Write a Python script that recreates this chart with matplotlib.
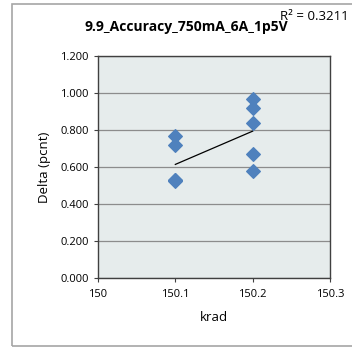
import numpy as np
import matplotlib.pyplot as plt
from matplotlib.patches import Rectangle

# data (two points overlap near 0.53 at 150.1)
krad = [150.1, 150.1, 150.1, 150.1, 150.1, 150.2, 150.2, 150.2, 150.2, 150.2]
delta = [0.769, 0.718, 0.532, 0.528, 0.523, 0.968, 0.918, 0.836, 0.671, 0.576]
r2_text = "R² = 0.3211"
title = "9.9_Accuracy_750mA_6A_1p5V"
x_ticks = [150, 150.1, 150.2, 150.3]
x_tick_labels = ["150", "150.1", "150.2", "150.3"]
y_ticks = [0.0, 0.2, 0.4, 0.6, 0.8, 1.0, 1.2]

plt.rcParams['font.family'] = ['Open Sans', 'DejaVu Sans']

fig = plt.figure(figsize=(3.52, 3.48), dpi=100)
fig.patch.set_facecolor('white')

# outer chart border
fig.patches.append(Rectangle((12 / 352, 2 / 348), 345 / 352, 342 / 348,
                             transform=fig.transFigure, fill=False,
                             edgecolor='#a6a6a6', linewidth=1.2))

ax = fig.add_axes([98 / 352, 70 / 348, 232 / 352, 222 / 348])
ax.set_facecolor('#e6ecec')

ax.scatter(krad, delta, marker='D', s=48, color='#4f81bd', zorder=3)

# linear trendline
k, d = np.polyfit(krad, delta, 1)
xs = np.array([min(krad), max(krad)])
ax.plot(xs, k * xs + d, color='black', linewidth=0.9, zorder=2)

ax.set_xlim(150, 150.3)
ax.set_ylim(0, 1.2)
ax.set_xticks(x_ticks)
ax.set_xticklabels(x_tick_labels)
ax.set_yticks(y_ticks)
ax.set_yticklabels(["%.3f" % v for v in y_ticks])
ax.grid(axis='y', color='#8c8c8c', linewidth=0.9)
ax.set_axisbelow(True)

for s in ax.spines.values():
    s.set_color('#404040')
    s.set_linewidth(1.0)
ax.tick_params(axis='both', labelsize=8, color='#404040', length=3, width=0.8)
ax.tick_params(axis='x', pad=5)

ax.set_xlabel("krad", fontsize=9.5, labelpad=8)
ax.set_ylabel("Delta (pcnt)", fontsize=9.5, labelpad=7)

fig.text(186 / 352, 1 - 27 / 348, title, fontsize=10, fontweight='bold',
         ha='center', va='center')
fig.text(349 / 352, 1 - 16 / 348, r2_text, fontsize=9.5, ha='right', va='center')

fig.savefig("out.png", dpi=100)
